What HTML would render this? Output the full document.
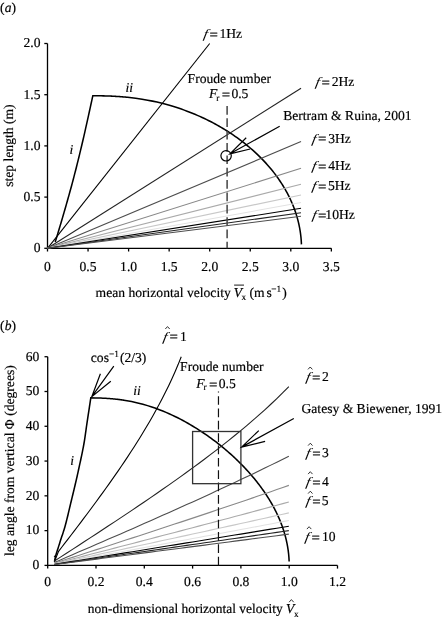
<!DOCTYPE html>
<html><head><meta charset="utf-8"><style>
html,body{margin:0;padding:0;background:#fff;}
svg{display:block;text-rendering:geometricPrecision;}
.wrap{width:442px;height:620px;will-change:transform;}
.t{font-family:"Liberation Serif",serif;font-size:13.6px;fill:#000;stroke:#000;stroke-width:0.18px;}
.sub{font-family:"Liberation Serif",serif;font-size:9.3px;fill:#000;stroke:#000;stroke-width:0.15px;}
.i{font-style:italic;}
.ax{fill:none;stroke:#000;stroke-width:1.3;}
.cv{fill:none;stroke:#000;stroke-width:1.55;stroke-linejoin:miter;}
.fl{fill:none;stroke-width:1.1;}
.dash{fill:none;stroke:#444;stroke-width:1.5;stroke-dasharray:8.7 3.65;}
.dashb{fill:none;stroke:#111;stroke-width:1.2;stroke-dasharray:8.7 3.65;stroke-dashoffset:7.7;}
.thin{fill:none;stroke:#000;stroke-width:1.2;}
.box{fill:none;stroke:#333;stroke-width:1.3;}
.hat{fill:none;stroke:#000;}
</style></head><body>
<div class="wrap"><svg width="442" height="620" viewBox="0 0 442 620">
<path d="M47.5 43.5 V248.3 H331.35" class="ax"/>
<path d="M44.3 248.3 H47.5" class="ax"/>
<path d="M44.3 197.1 H47.5" class="ax"/>
<path d="M44.3 145.9 H47.5" class="ax"/>
<path d="M44.3 94.7 H47.5" class="ax"/>
<path d="M44.3 43.5 H47.5" class="ax"/>
<path d="M47.5 248.3 V251.5" class="ax"/>
<path d="M88.05 248.3 V251.5" class="ax"/>
<path d="M128.6 248.3 V251.5" class="ax"/>
<path d="M169.15 248.3 V251.5" class="ax"/>
<path d="M209.7 248.3 V251.5" class="ax"/>
<path d="M250.25 248.3 V251.5" class="ax"/>
<path d="M290.8 248.3 V251.5" class="ax"/>
<path d="M331.35 248.3 V251.5" class="ax"/>
<path d="M55.2 242.1 L55.59 240.82 L56.06 239.24 L56.62 237.42 L57.24 235.37 L57.91 233.13 L58.64 230.74 L59.39 228.22 L60.17 225.62 L60.97 222.97 L61.76 220.29 L62.54 217.62 L63.3 215 L64.06 212.38 L64.83 209.68 L65.63 206.92 L66.44 204.1 L67.26 201.23 L68.09 198.31 L68.92 195.34 L69.76 192.33 L70.6 189.29 L71.44 186.21 L72.27 183.12 L73.1 180 L73.92 176.86 L74.74 173.67 L75.57 170.45 L76.39 167.2 L77.22 163.91 L78.05 160.58 L78.87 157.23 L79.7 153.84 L80.53 150.42 L81.35 146.97 L82.18 143.5 L83 140 L83.85 136.32 L84.76 132.35 L85.69 128.19 L86.65 123.91 L87.6 119.6 L88.54 115.35 L89.44 111.23 L90.29 107.34 L91.07 103.76 L91.77 100.56 L92.36 97.85 L92.84 95.69 L92.84 95.69 L97.88 95.75 L101.07 95.8 L103.51 95.86 L105.52 95.91 L107.25 95.97 L108.78 96.03 L110.16 96.08 L111.43 96.14 L112.6 96.19 L113.7 96.25 L114.72 96.3 L115.7 96.36 L116.62 96.41 L117.5 96.47 L118.34 96.52 L119.15 96.58 L119.92 96.64 L120.67 96.69 L121.4 96.75 L122.1 96.8 L122.78 96.86 L123.44 96.91 L124.08 96.97 L124.71 97.03 L125.32 97.08 L125.91 97.14 L126.49 97.19 L127.06 97.25 L127.62 97.31 L127.62 97.31 L135.66 98.25 L142.1 99.2 L147.62 100.16 L152.52 101.13 L156.98 102.1 L161.09 103.08 L164.93 104.07 L168.54 105.06 L171.97 106.06 L175.23 107.06 L178.36 108.08 L181.36 109.1 L184.25 110.12 L187.04 111.15 L189.74 112.19 L192.36 113.24 L194.91 114.29 L197.38 115.34 L199.8 116.41 L202.15 117.48 L204.44 118.55 L206.69 119.63 L208.88 120.72 L211.03 121.81 L213.13 122.91 L215.18 124.02 L217.2 125.13 L219.18 126.24 L221.12 127.37 L223.02 128.49 L224.89 129.63 L226.73 130.77 L228.53 131.91 L230.3 133.06 L232.04 134.21 L233.75 135.37 L235.44 136.54 L237.09 137.71 L238.71 138.88 L240.31 140.07 L241.89 141.25 L243.43 142.44 L244.95 143.64 L246.45 144.84 L247.92 146.04 L249.37 147.25 L250.79 148.47 L252.19 149.69 L253.57 150.91 L254.92 152.14 L256.25 153.37 L257.56 154.61 L258.85 155.85 L260.12 157.1 L261.36 158.35 L262.59 159.6 L263.79 160.86 L264.97 162.12 L266.13 163.39 L267.27 164.66 L268.39 165.93 L269.49 167.21 L270.57 168.49 L271.63 169.78 L272.67 171.07 L273.7 172.36 L274.7 173.65 L275.68 174.95 L276.64 176.26 L277.59 177.56 L278.51 178.87 L279.42 180.19 L280.3 181.5 L281.17 182.82 L282.02 184.14 L282.85 185.47 L283.66 186.8 L284.46 188.13 L285.23 189.46 L285.99 190.8 L286.72 192.14 L287.44 193.48 L288.15 194.82 L288.83 196.17 L289.49 197.52 L290.14 198.87 L290.77 200.22 L291.38 201.58 L291.97 202.94 L292.54 204.3 L293.1 205.66 L293.64 207.02 L294.16 208.39 L294.66 209.76 L295.15 211.13 L295.61 212.5 L296.06 213.87 L296.49 215.25 L296.9 216.62 L297.3 218 L297.68 219.38 L298.04 220.76 L298.38 222.14 L298.7 223.52 L299.01 224.91 L299.3 226.29 L299.57 227.68 L299.82 229.07 L300.05 230.45 L300.27 231.84 L300.47 233.23 L300.65 234.62 L300.82 236.01 L300.97 237.4 L301.09 238.8 L301.21 240.19 L301.3 241.58 L301.38 242.97 L301.43 244.37" class="cv"/>
<path d="M47.5 248.3 L209.7 43.5" stroke="#000" class="fl"/>
<path d="M47.5 248.3 L301.02 88.25" stroke="#222" class="fl"/>
<path d="M47.5 248.3 L301.02 141.6" stroke="#4d4d4d" class="fl"/>
<path d="M47.5 248.3 L301.02 168.27" stroke="#888" class="fl"/>
<path d="M47.5 248.3 L301.02 184.28" stroke="#aaa" class="fl"/>
<path d="M47.5 248.3 L301.02 194.95" stroke="#c8c8c8" class="fl"/>
<path d="M47.5 248.3 L301.02 202.57" stroke="#e2e2e2" class="fl"/>
<path d="M47.5 248.3 L301.02 208.29" stroke="#000" class="fl"/>
<path d="M47.5 248.3 L301.02 212.73" stroke="#222" class="fl"/>
<path d="M47.5 248.3 L301.02 216.29" stroke="#4d4d4d" class="fl"/>
<path d="M227.11 106 V248.3" class="dash"/>
<circle cx="226.1" cy="155.8" r="5.2" class="thin"/>
<path d="M279.7 126.3 L229.9 153.8 M246.2 137.7 L229.9 153.8 L250.2 149" class="thin"/>
<path d="M47.7 356.72 V565.4 H337.5" class="ax"/>
<path d="M44.5 565.4 H47.7" class="ax"/>
<path d="M44.5 530.62 H47.7" class="ax"/>
<path d="M44.5 495.84 H47.7" class="ax"/>
<path d="M44.5 461.06 H47.7" class="ax"/>
<path d="M44.5 426.28 H47.7" class="ax"/>
<path d="M44.5 391.5 H47.7" class="ax"/>
<path d="M44.5 356.72 H47.7" class="ax"/>
<path d="M47.7 565.4 V568.6" class="ax"/>
<path d="M96 565.4 V568.6" class="ax"/>
<path d="M144.3 565.4 V568.6" class="ax"/>
<path d="M192.6 565.4 V568.6" class="ax"/>
<path d="M240.9 565.4 V568.6" class="ax"/>
<path d="M289.2 565.4 V568.6" class="ax"/>
<path d="M337.5 565.4 V568.6" class="ax"/>
<path d="M54.5 561.6 L55.4 556.6 L55.64 555.85 L55.93 554.92 L56.28 553.83 L56.66 552.6 L57.08 551.27 L57.53 549.86 L58 548.39 L58.47 546.89 L58.95 545.38 L59.42 543.9 L59.87 542.46 L60.3 541.1 L60.71 539.81 L61.13 538.55 L61.54 537.33 L61.95 536.11 L62.36 534.88 L62.77 533.64 L63.19 532.37 L63.62 531.05 L64.05 529.66 L64.49 528.21 L64.94 526.66 L65.4 525 L65.88 523.2 L66.39 521.23 L66.91 519.14 L67.45 516.96 L68 514.71 L68.54 512.43 L69.08 510.16 L69.61 507.92 L70.13 505.76 L70.62 503.69 L71.08 501.76 L71.5 500 L71.89 498.4 L72.25 496.92 L72.58 495.55 L72.89 494.26 L73.19 493.04 L73.47 491.88 L73.74 490.74 L74.01 489.63 L74.27 488.52 L74.54 487.38 L74.81 486.22 L75.1 485 L75.38 483.78 L75.66 482.62 L75.92 481.48 L76.18 480.37 L76.44 479.26 L76.7 478.12 L76.97 476.96 L77.24 475.74 L77.53 474.45 L77.83 473.08 L78.15 471.6 L78.5 470 L78.88 468.26 L79.28 466.39 L79.71 464.42 L80.16 462.35 L80.63 460.21 L81.09 458.03 L81.56 455.81 L82.03 453.59 L82.48 451.37 L82.91 449.19 L83.32 447.06 L83.7 445 L84.05 443 L84.38 441.01 L84.69 439.05 L84.99 437.09 L85.27 435.15 L85.55 433.22 L85.82 431.29 L86.09 429.37 L86.36 427.44 L86.63 425.5 L86.91 423.56 L87.2 421.6 L87.51 419.56 L87.84 417.39 L88.18 415.13 L88.53 412.83 L88.88 410.53 L89.22 408.27 L89.55 406.08 L89.87 404.03 L90.16 402.13 L90.41 400.44 L90.63 399.01 L90.81 397.86 L90.81 397.86 L95.6 397.94 L98.64 398.02 L100.95 398.1 L102.86 398.18 L104.51 398.26 L105.96 398.34 L107.28 398.42 L108.48 398.5 L109.6 398.58 L110.64 398.66 L111.61 398.74 L112.54 398.82 L113.42 398.91 L114.25 398.99 L115.05 399.07 L115.82 399.15 L116.56 399.23 L117.27 399.31 L117.96 399.39 L118.63 399.47 L119.27 399.55 L119.9 399.63 L120.51 399.71 L121.11 399.79 L121.69 399.87 L122.25 399.95 L122.81 400.03 L123.35 400.11 L123.88 400.19 L123.88 400.19 L131.52 401.55 L137.64 402.91 L142.89 404.26 L147.55 405.62 L151.79 406.98 L155.7 408.33 L159.35 409.69 L162.78 411.04 L166.04 412.4 L169.15 413.76 L172.12 415.11 L174.97 416.47 L177.72 417.82 L180.37 419.18 L182.94 420.54 L185.43 421.89 L187.85 423.25 L190.2 424.61 L192.5 425.96 L194.73 427.32 L196.92 428.67 L199.05 430.03 L201.13 431.39 L203.17 432.74 L205.17 434.1 L207.13 435.45 L209.05 436.81 L210.93 438.17 L212.77 439.52 L214.58 440.88 L216.36 442.23 L218.1 443.59 L219.82 444.95 L221.5 446.3 L223.16 447.66 L224.78 449.02 L226.38 450.37 L227.96 451.73 L229.5 453.08 L231.02 454.44 L232.52 455.8 L233.99 457.15 L235.43 458.51 L236.85 459.86 L238.25 461.22 L239.63 462.58 L240.98 463.93 L242.31 465.29 L243.62 466.65 L244.91 468 L246.18 469.36 L247.42 470.71 L248.65 472.07 L249.85 473.43 L251.03 474.78 L252.2 476.14 L253.34 477.49 L254.46 478.85 L255.57 480.21 L256.65 481.56 L257.72 482.92 L258.76 484.27 L259.79 485.63 L260.8 486.99 L261.79 488.34 L262.76 489.7 L263.71 491.06 L264.65 492.41 L265.56 493.77 L266.46 495.12 L267.34 496.48 L268.2 497.84 L269.04 499.19 L269.87 500.55 L270.67 501.9 L271.46 503.26 L272.24 504.62 L272.99 505.97 L273.73 507.33 L274.45 508.69 L275.15 510.04 L275.83 511.4 L276.5 512.75 L277.15 514.11 L277.78 515.47 L278.39 516.82 L278.99 518.18 L279.57 519.53 L280.13 520.89 L280.68 522.25 L281.21 523.6 L281.72 524.96 L282.22 526.31 L282.69 527.67 L283.15 529.03 L283.6 530.38 L284.02 531.74 L284.43 533.1 L284.82 534.45 L285.2 535.81 L285.56 537.16 L285.9 538.52 L286.23 539.88 L286.53 541.23 L286.82 542.59 L287.1 543.94 L287.36 545.3 L287.6 546.66 L287.82 548.01 L288.03 549.37 L288.22 550.73 L288.39 552.08 L288.55 553.44 L288.69 554.79 L288.81 556.15 L288.92 557.51 L289.01 558.86 L289.08 560.22 L289.13 561.57" class="cv"/>
<path d="M53.9 556.3 H55.6" stroke="#000" stroke-width="1.1"/>
<path d="M54.4 561.7 L58.57 551.35 L61.71 547.27 L64.86 543.18 L68 539.09 L71.15 534.98 L74.3 530.86 L77.44 526.72 L80.59 522.57 L83.73 518.4 L86.88 514.21 L90.03 510 L93.17 505.76 L96.32 501.49 L99.46 497.19 L102.61 492.86 L105.75 488.49 L108.9 484.08 L112.05 479.63 L115.19 475.13 L118.34 470.59 L121.48 465.98 L124.63 461.33 L127.78 456.6 L130.92 451.81 L134.07 446.94 L137.21 442 L140.36 436.96 L143.5 431.82 L146.65 426.58 L149.8 421.22 L152.94 415.73 L156.09 410.09 L159.23 404.29 L162.38 398.31 L165.52 392.12 L168.67 385.7 L171.82 379 L174.96 371.98 L178.11 364.58 L181.25 356.72" stroke="#000" class="fl"/>
<path d="M54.46 561.03 L60.47 557.15 L66.48 553.26 L72.49 549.37 L78.5 545.47 L84.51 541.56 L90.52 537.64 L96.53 533.72 L102.54 529.78 L108.55 525.83 L114.56 521.86 L120.57 517.87 L126.58 513.86 L132.59 509.84 L138.6 505.79 L144.61 501.71 L150.62 497.61 L156.63 493.47 L162.64 489.3 L168.65 485.1 L174.65 480.86 L180.66 476.58 L186.67 472.25 L192.68 467.88 L198.69 463.46 L204.7 458.97 L210.71 454.43 L216.72 449.82 L222.73 445.15 L228.74 440.39 L234.75 435.55 L240.76 430.62 L246.77 425.59 L252.78 420.45 L258.79 415.19 L264.8 409.8 L270.81 404.25 L276.82 398.54 L282.83 392.64 L288.84 386.53" stroke="#222" class="fl"/>
<path d="M54.46 562.49 L60.47 559.9 L66.48 557.31 L72.49 554.72 L78.5 552.12 L84.51 549.53 L90.52 546.93 L96.53 544.33 L102.54 541.72 L108.55 539.11 L114.56 536.5 L120.57 533.88 L126.58 531.26 L132.59 528.63 L138.6 525.99 L144.61 523.35 L150.62 520.7 L156.63 518.04 L162.64 515.37 L168.65 512.69 L174.65 510.01 L180.66 507.31 L186.67 504.6 L192.68 501.88 L198.69 499.15 L204.7 496.4 L210.71 493.64 L216.72 490.87 L222.73 488.08 L228.74 485.28 L234.75 482.46 L240.76 479.62 L246.77 476.76 L252.78 473.88 L258.79 470.98 L264.8 468.06 L270.81 465.12 L276.82 462.15 L282.83 459.16 L288.84 456.14" stroke="#4d4d4d" class="fl"/>
<path d="M54.46 563.22 L60.47 561.27 L66.48 559.33 L72.49 557.39 L78.5 555.45 L84.51 553.5 L90.52 551.56 L96.53 549.61 L102.54 547.66 L108.55 545.71 L114.56 543.76 L120.57 541.81 L126.58 539.85 L132.59 537.89 L138.6 535.93 L144.61 533.96 L150.62 532 L156.63 530.03 L162.64 528.05 L168.65 526.07 L174.65 524.09 L180.66 522.11 L186.67 520.12 L192.68 518.12 L198.69 516.12 L204.7 514.12 L210.71 512.11 L216.72 510.09 L222.73 508.07 L228.74 506.04 L234.75 504.01 L240.76 501.97 L246.77 499.92 L252.78 497.86 L258.79 495.8 L264.8 493.73 L270.81 491.65 L276.82 489.57 L282.83 487.47 L288.84 485.37" stroke="#888" class="fl"/>
<path d="M54.46 563.65 L60.47 562.1 L66.48 560.55 L72.49 558.99 L78.5 557.44 L84.51 555.88 L90.52 554.33 L96.53 552.77 L102.54 551.22 L108.55 549.66 L114.56 548.1 L120.57 546.54 L126.58 544.98 L132.59 543.42 L138.6 541.85 L144.61 540.29 L150.62 538.72 L156.63 537.15 L162.64 535.59 L168.65 534.01 L174.65 532.44 L180.66 530.86 L186.67 529.29 L192.68 527.71 L198.69 526.12 L204.7 524.54 L210.71 522.95 L216.72 521.36 L222.73 519.77 L228.74 518.17 L234.75 516.57 L240.76 514.97 L246.77 513.36 L252.78 511.75 L258.79 510.14 L264.8 508.52 L270.81 506.9 L276.82 505.28 L282.83 503.65 L288.84 502.02" stroke="#aaa" class="fl"/>
<path d="M54.46 563.94 L60.47 562.65 L66.48 561.35 L72.49 560.06 L78.5 558.77 L84.51 557.47 L90.52 556.17 L96.53 554.88 L102.54 553.58 L108.55 552.29 L114.56 550.99 L120.57 549.69 L126.58 548.39 L132.59 547.09 L138.6 545.79 L144.61 544.49 L150.62 543.19 L156.63 541.89 L162.64 540.58 L168.65 539.28 L174.65 537.97 L180.66 536.66 L186.67 535.36 L192.68 534.05 L198.69 532.74 L204.7 531.42 L210.71 530.11 L216.72 528.79 L222.73 527.48 L228.74 526.16 L234.75 524.84 L240.76 523.51 L246.77 522.19 L252.78 520.86 L258.79 519.53 L264.8 518.2 L270.81 516.87 L276.82 515.54 L282.83 514.2 L288.84 512.86" stroke="#c8c8c8" class="fl"/>
<path d="M54.46 564.15 L60.47 563.04 L66.48 561.93 L72.49 560.82 L78.5 559.71 L84.51 558.6 L90.52 557.49 L96.53 556.38 L102.54 555.27 L108.55 554.16 L114.56 553.05 L120.57 551.94 L126.58 550.83 L132.59 549.71 L138.6 548.6 L144.61 547.49 L150.62 546.37 L156.63 545.26 L162.64 544.14 L168.65 543.03 L174.65 541.91 L180.66 540.79 L186.67 539.67 L192.68 538.56 L198.69 537.44 L204.7 536.31 L210.71 535.19 L216.72 534.07 L222.73 532.95 L228.74 531.82 L234.75 530.7 L240.76 529.57 L246.77 528.44 L252.78 527.31 L258.79 526.18 L264.8 525.05 L270.81 523.92 L276.82 522.78 L282.83 521.64 L288.84 520.51" stroke="#e2e2e2" class="fl"/>
<path d="M54.46 564.31 L60.47 563.34 L66.48 562.37 L72.49 561.4 L78.5 560.42 L84.51 559.45 L90.52 558.48 L96.53 557.51 L102.54 556.54 L108.55 555.57 L114.56 554.6 L120.57 553.62 L126.58 552.65 L132.59 551.68 L138.6 550.7 L144.61 549.73 L150.62 548.76 L156.63 547.78 L162.64 546.81 L168.65 545.83 L174.65 544.86 L180.66 543.88 L186.67 542.9 L192.68 541.93 L198.69 540.95 L204.7 539.97 L210.71 538.99 L216.72 538.01 L222.73 537.03 L228.74 536.05 L234.75 535.07 L240.76 534.09 L246.77 533.1 L252.78 532.12 L258.79 531.14 L264.8 530.15 L270.81 529.16 L276.82 528.18 L282.83 527.19 L288.84 526.2" stroke="#000" class="fl"/>
<path d="M54.46 564.43 L60.47 563.57 L66.48 562.7 L72.49 561.84 L78.5 560.98 L84.51 560.11 L90.52 559.25 L96.53 558.39 L102.54 557.52 L108.55 556.66 L114.56 555.8 L120.57 554.93 L126.58 554.07 L132.59 553.2 L138.6 552.34 L144.61 551.48 L150.62 550.61 L156.63 549.74 L162.64 548.88 L168.65 548.01 L174.65 547.15 L180.66 546.28 L186.67 545.41 L192.68 544.55 L198.69 543.68 L204.7 542.81 L210.71 541.94 L216.72 541.07 L222.73 540.2 L228.74 539.33 L234.75 538.46 L240.76 537.59 L246.77 536.72 L252.78 535.85 L258.79 534.97 L264.8 534.1 L270.81 533.23 L276.82 532.35 L282.83 531.48 L288.84 530.6" stroke="#222" class="fl"/>
<path d="M54.46 564.53 L60.47 563.75 L66.48 562.97 L72.49 562.2 L78.5 561.42 L84.51 560.64 L90.52 559.87 L96.53 559.09 L102.54 558.31 L108.55 557.54 L114.56 556.76 L120.57 555.98 L126.58 555.2 L132.59 554.43 L138.6 553.65 L144.61 552.87 L150.62 552.09 L156.63 551.31 L162.64 550.53 L168.65 549.76 L174.65 548.98 L180.66 548.2 L186.67 547.42 L192.68 546.64 L198.69 545.86 L204.7 545.08 L210.71 544.3 L216.72 543.52 L222.73 542.73 L228.74 541.95 L234.75 541.17 L240.76 540.39 L246.77 539.6 L252.78 538.82 L258.79 538.04 L264.8 537.25 L270.81 536.47 L276.82 535.68 L282.83 534.9 L288.84 534.11" stroke="#4d4d4d" class="fl"/>
<path d="M218.47 391.5 V565.4" class="dashb"/>
<rect x="192.6" y="431.5" width="48.3" height="52.17" class="box"/>
<path d="M293.8 418.5 L241.6 447.1 M258.8 430.6 L241.6 447.1 L265.1 441.3" class="thin"/>
<path d="M113.8 366.2 L91.8 396.7 M100.4 373.8 L91.8 396.7 L110.8 381.3" class="thin"/>
<text x="0.10" y="11.80" class="t">(<tspan class="i">a</tspan>)</text>
<text x="40.50" y="252.10" text-anchor="end" class="t">0</text>
<text x="40.50" y="200.90" text-anchor="end" class="t">0.5</text>
<text x="40.50" y="149.70" text-anchor="end" class="t">1.0</text>
<text x="40.50" y="98.50" text-anchor="end" class="t">1.5</text>
<text x="40.50" y="47.30" text-anchor="end" class="t">2.0</text>
<text x="47.50" y="270.60" text-anchor="middle" class="t">0</text>
<text x="88.05" y="270.60" text-anchor="middle" class="t">0.5</text>
<text x="128.60" y="270.60" text-anchor="middle" class="t">1.0</text>
<text x="169.15" y="270.60" text-anchor="middle" class="t">1.5</text>
<text x="209.70" y="270.60" text-anchor="middle" class="t">2.0</text>
<text x="250.25" y="270.60" text-anchor="middle" class="t">2.5</text>
<text x="290.80" y="270.60" text-anchor="middle" class="t">3.0</text>
<text x="331.35" y="270.60" text-anchor="middle" class="t">3.5</text>
<text transform="translate(202.90 38.00) skewX(-11) scale(1.1 0.95)" class="t" style="stroke-width:0.05px"><tspan class="i">f</tspan></text>
<text transform="translate(209.47 38.80) scale(1.1 1.0)" class="t" style="stroke-width:0.22px">=</text>
<text x="219.43" y="38.00" class="t">1Hz</text>
<text transform="translate(314.90 86.20) skewX(-11) scale(1.1 0.95)" class="t" style="stroke-width:0.05px"><tspan class="i">f</tspan></text>
<text transform="translate(321.47 87.00) scale(1.1 1.0)" class="t" style="stroke-width:0.22px">=</text>
<text x="331.72" y="86.20" class="t">2Hz</text>
<text transform="translate(311.60 142.60) skewX(-11) scale(1.1 0.95)" class="t" style="stroke-width:0.05px"><tspan class="i">f</tspan></text>
<text transform="translate(317.97 143.40) scale(1.1 1.0)" class="t" style="stroke-width:0.22px">=</text>
<text x="328.16" y="142.60" class="t">3Hz</text>
<text transform="translate(311.60 170.20) skewX(-11) scale(1.1 0.95)" class="t" style="stroke-width:0.05px"><tspan class="i">f</tspan></text>
<text transform="translate(317.97 171.00) scale(1.1 1.0)" class="t" style="stroke-width:0.22px">=</text>
<text x="328.24" y="170.20" class="t">4Hz</text>
<text transform="translate(311.60 190.20) skewX(-11) scale(1.1 0.95)" class="t" style="stroke-width:0.05px"><tspan class="i">f</tspan></text>
<text transform="translate(317.97 191.00) scale(1.1 1.0)" class="t" style="stroke-width:0.22px">=</text>
<text x="327.93" y="190.20" class="t">5Hz</text>
<text transform="translate(311.80 219.00) skewX(-11) scale(1.1 0.95)" class="t" style="stroke-width:0.05px"><tspan class="i">f</tspan></text>
<text transform="translate(317.97 219.80) scale(1.1 1.0)" class="t" style="stroke-width:0.22px">=</text>
<text x="325.33" y="219.00" class="t">10Hz</text>
<text x="125.60" y="91.60" class="t"><tspan class="i">ii</tspan></text>
<text x="69.50" y="153.60" class="t"><tspan class="i">i</tspan></text>
<text x="229.30" y="82.60" text-anchor="middle" class="t">Froude number</text>
<text x="209.00" y="98.40" class="t"><tspan class="i">F</tspan></text>
<text x="216.30" y="100.70" class="sub">r</text>
<text transform="translate(221.67 99.20) scale(1.1 1.0)" class="t" style="stroke-width:0.22px">=</text>
<text x="231.40" y="98.40" class="t">0.5</text>
<text x="283.20" y="119.70" class="t">Bertram &amp; Ruina, 2001</text>
<text x="95.60" y="297.00" class="t">mean horizontal velocity</text>
<text x="233.70" y="297.00" class="t"><tspan class="i">V</tspan></text>
<text x="241.50" y="300.20" class="sub">x</text>
<text x="249.50" y="297.00" class="t">(m</text>
<text x="266.40" y="297.00" class="t">s</text>
<text x="271.30" y="292.30" class="sub">−1</text>
<text x="282.20" y="297.00" class="t">)</text>
<text x="0.00" y="0.00" text-anchor="middle" class="t" transform="translate(12.7 145.6) rotate(-90)">step length (m)</text>
<text x="0.10" y="330.40" class="t">(<tspan class="i">b</tspan>)</text>
<text x="39.30" y="569.20" text-anchor="end" class="t">0</text>
<text x="39.30" y="534.42" text-anchor="end" class="t">10</text>
<text x="39.30" y="499.64" text-anchor="end" class="t">20</text>
<text x="39.30" y="464.86" text-anchor="end" class="t">30</text>
<text x="39.30" y="430.08" text-anchor="end" class="t">40</text>
<text x="39.30" y="395.30" text-anchor="end" class="t">50</text>
<text x="39.30" y="360.52" text-anchor="end" class="t">60</text>
<text x="47.70" y="586.30" text-anchor="middle" class="t">0</text>
<text x="96.00" y="586.30" text-anchor="middle" class="t">0.2</text>
<text x="144.30" y="586.30" text-anchor="middle" class="t">0.4</text>
<text x="192.60" y="586.30" text-anchor="middle" class="t">0.6</text>
<text x="240.90" y="586.30" text-anchor="middle" class="t">0.8</text>
<text x="289.20" y="586.30" text-anchor="middle" class="t">1.0</text>
<text x="337.50" y="586.30" text-anchor="middle" class="t">1.2</text>
<text transform="translate(162.40 340.60) skewX(-11) scale(1.1 0.95)" class="t" style="stroke-width:0.05px"><tspan class="i">f</tspan></text>
<text transform="translate(169.47 341.40) scale(1.1 1.0)" class="t" style="stroke-width:0.22px">=</text>
<text x="180.03" y="340.60" class="t">1</text>
<text transform="translate(305.40 381.00) skewX(-11) scale(1.1 0.95)" class="t" style="stroke-width:0.05px"><tspan class="i">f</tspan></text>
<text transform="translate(312.07 381.80) scale(1.1 1.0)" class="t" style="stroke-width:0.22px">=</text>
<text x="322.02" y="381.00" class="t">2</text>
<text transform="translate(305.50 457.20) skewX(-11) scale(1.1 0.95)" class="t" style="stroke-width:0.05px"><tspan class="i">f</tspan></text>
<text transform="translate(312.17 458.00) scale(1.1 1.0)" class="t" style="stroke-width:0.22px">=</text>
<text x="321.96" y="457.20" class="t">3</text>
<text transform="translate(305.50 485.70) skewX(-11) scale(1.1 0.95)" class="t" style="stroke-width:0.05px"><tspan class="i">f</tspan></text>
<text transform="translate(312.17 486.50) scale(1.1 1.0)" class="t" style="stroke-width:0.22px">=</text>
<text x="321.94" y="485.70" class="t">4</text>
<text transform="translate(305.50 505.20) skewX(-11) scale(1.1 0.95)" class="t" style="stroke-width:0.05px"><tspan class="i">f</tspan></text>
<text transform="translate(312.17 506.00) scale(1.1 1.0)" class="t" style="stroke-width:0.22px">=</text>
<text x="321.83" y="505.20" class="t">5</text>
<text transform="translate(304.50 540.70) skewX(-11) scale(1.1 0.95)" class="t" style="stroke-width:0.05px"><tspan class="i">f</tspan></text>
<text transform="translate(311.47 541.50) scale(1.1 1.0)" class="t" style="stroke-width:0.22px">=</text>
<text x="321.93" y="540.70" class="t">10</text>
<text x="90.80" y="361.60" class="t">cos</text>
<text x="108.90" y="357.20" class="sub">−1</text>
<text x="119.90" y="361.60" class="t">(2/3)</text>
<text x="133.30" y="394.70" class="t"><tspan class="i">ii</tspan></text>
<text x="70.30" y="464.60" class="t"><tspan class="i">i</tspan></text>
<text x="221.80" y="371.30" text-anchor="middle" class="t">Froude number</text>
<text x="196.30" y="388.10" class="t"><tspan class="i">F</tspan></text>
<text x="203.60" y="390.40" class="sub">r</text>
<text transform="translate(208.97 388.90) scale(1.1 1.0)" class="t" style="stroke-width:0.22px">=</text>
<text x="218.80" y="388.10" class="t">0.5</text>
<text x="301.50" y="412.50" class="t">Gatesy &amp; Biewener, 1991</text>
<text x="87.80" y="613.20" class="t" style="font-size:13.45px">non-dimensional horizontal velocity</text>
<text x="286.10" y="613.20" class="t"><tspan class="i">V</tspan></text>
<text x="294.00" y="617.40" class="sub">x</text>
<text x="0.00" y="0.00" text-anchor="middle" class="t" transform="translate(13.9 460.6) rotate(-90)">leg angle from vertical Φ (degrees)</text>
<path d="M234.1 285.1 H244" stroke="#000" stroke-width="0.9"/>
<path d="M165.30 329.00 L167.50 326.60 L169.70 329.00" class="hat" stroke-width="0.8"/>
<path d="M308.00 369.40 L310.20 367.00 L312.40 369.40" class="hat" stroke-width="0.8"/>
<path d="M308.10 445.60 L310.30 443.20 L312.50 445.60" class="hat" stroke-width="0.8"/>
<path d="M308.10 474.10 L310.30 471.70 L312.50 474.10" class="hat" stroke-width="0.8"/>
<path d="M308.10 493.60 L310.30 491.20 L312.50 493.60" class="hat" stroke-width="0.8"/>
<path d="M306.90 529.10 L309.10 526.70 L311.30 529.10" class="hat" stroke-width="0.8"/>
<path d="M289.10 602.20 L291.40 599.60 L293.70 602.20" class="hat" stroke-width="0.8"/>
</svg></div>
</body></html>
